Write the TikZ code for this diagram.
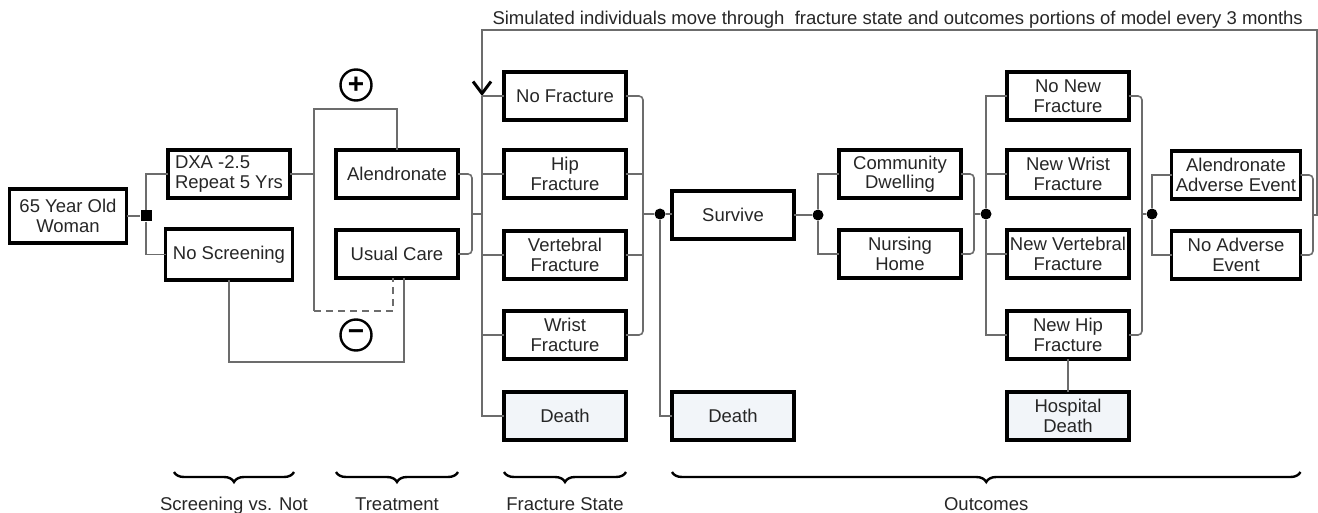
\documentclass[tikz,border=0pt]{standalone}
\usepackage{fontspec}
\setmainfont{Liberation Sans}
\usetikzlibrary{positioning, arrows.meta, decorations.pathreplacing}
\definecolor{linkgray}{HTML}{6C6C6C}
\definecolor{textgray}{HTML}{262626}
\definecolor{deathfill}{HTML}{F2F5F9}

\begin{document}
\begin{tikzpicture}[
    x=1pt, y=-1pt,
    node distance=32pt,
    state/.style={rectangle, draw=black, line width=3.4pt, outer sep=0pt, minimum width=122pt, minimum height=48pt, inner sep=1.5pt, align=center, text=textgray, font=\fontsize{18.5}{19.5}\selectfont},
    absorb/.style={state, fill=deathfill},
    link/.style={draw=linkgray, line width=1.6pt},
    merge/.style={link, rounded corners=4pt},
    chance/.style={circle, fill=black, inner sep=0pt, minimum size=11pt},
    choice/.style={rectangle, fill=black, inner sep=0pt, minimum size=11pt},
    sign/.style={circle, draw=black, line width=2.4pt, minimum size=31pt, inner sep=0pt, font=\fontsize{28}{28}\selectfont\bfseries},
    phase/.style={decorate, decoration={brace, mirror, amplitude=10pt}, line width=2.4pt},
    phaselabel/.style={font=\fontsize{18.5}{19.5}\selectfont, text=textgray},
]
  \useasboundingbox (0,0) rectangle (1318,513);

  % screening and treatment
  \node[state, minimum width=117pt, minimum height=54pt] (woman) at (68,216) {65 Year Old\\Woman};
  \node[choice] (screen) at (146,216) {};
  \node[state, align=left] (dxa) at (229,174) {DXA -2.5\\Repeat 5 Yrs};
  \node[state, minimum width=127pt, minimum height=51pt, below=31pt of dxa] (noscr) {No Screening};
  \node[state] (alen) at (397,174) {Alendronate};
  \node[state, below=32pt of alen] (usual) {Usual Care};
  \node[sign] (plus) at (356,85) {+};
  \node[sign] (minus) at (356,335) {−};

  % fracture state
  \node[state] (nofx) at (565,96) {No Fracture};
  \node[state, below=30pt of nofx] (hipfx) {Hip\\Fracture};
  \node[state, below=33pt of hipfx] (vertfx) {Vertebral\\Fracture};
  \node[state, below=32pt of vertfx] (wristfx) {Wrist\\Fracture};
  \node[absorb, below=33pt of wristfx] (fxdeath) {Death};

  % outcomes
  \node[chance] (fxnode) at (660,214) {};
  \node[state] (survive) at (733,215) {Survive};
  \node[absorb] (death) at (733,416) {Death};
  \node[chance] (survnode) at (818,215) {};
  \node[state] (community) at (900,174) {Community\\Dwelling};
  \node[state, below=32pt of community] (nursing) {Nursing\\Home};
  \node[chance] (resnode) at (986,214) {};
  \node[state] (nonew) at (1068,96) {No New\\Fracture};
  \node[state, below=30pt of nonew] (newwrist) {New Wrist\\Fracture};
  \node[state, below=32pt of newwrist] (newvert) {New Vertebral\\Fracture};
  \node[state, below=33pt of newvert] (newhip) {New Hip\\Fracture};
  \node[absorb, below=33pt of newhip] (hospdeath) {Hospital\\Death};
  \node[chance] (newfxnode) at (1152,214) {};
  \node[state, minimum width=129pt] (adverse) at (1236,175) {Alendronate\\Adverse Event};
  \node[state, minimum width=129pt, below=32pt of adverse] (noadverse) {No Adverse\\Event};

  \coordinate (trtbusT) at (314,109);
  \coordinate (trtbusB) at (314,311);
  \coordinate (trtjoin) at (472,214);
  \coordinate (fxtop) at (482,30);
  \coordinate (fxjoin) at (643,214);
  \coordinate (resjoin) at (974,214);
  \coordinate (newfxjoin) at (1142,214);
  \coordinate (advjoin) at (1313,215);
  \coordinate (loopR) at (1317,215);
  \coordinate (phasey) at (0,472);

  \node[phaselabel, anchor=base west] (loopnote) at (489,25) {Simulated individuals move through\ \ fracture state and outcomes portions of model every 3 months};

  % connectors
  \draw[link] (woman) -- (screen);
  \draw[link] (dxa.west) -| (screen) |- (noscr.west);
  \draw[link] (dxa.east) -- (dxa.east -| trtbusT);
  \draw[link] (alen.north) |- (trtbusT) -- (trtbusB);
  \draw[link, dash pattern=on 7pt off 5pt] (trtbusB) -| ([xshift=-4pt]usual.south);
  \draw[link] (noscr.south) -- ++(0,82) -| ([xshift=7pt]usual.south);
  \draw[merge] (alen.east) -| (trtjoin) |- (usual.east);
  \draw[link] (trtjoin) -- (trtjoin -| fxtop);

  \draw[merge] (adverse.east) -| (advjoin) |- (noadverse.east);
  \draw[link, -{Straight Barb[length=12pt, width=18pt, line width=3pt, color=black]}]
    (advjoin) -- (loopR) |- (fxtop) -- (fxtop |- nofx.west);
  \draw[link] (fxtop |- nofx.west) |- (fxdeath.west);
  \foreach \s in {nofx, hipfx, vertfx, wristfx}
    \draw[link] (fxtop |- \s.west) -- (\s.west);
  \draw[merge] (nofx.east) -| (fxjoin) |- (wristfx.east);
  \foreach \s in {hipfx, vertfx}
    \draw[link] (\s.east) -- (\s.east -| fxjoin);
  \draw[link] (fxjoin) -- (fxnode);

  \draw[link] (fxnode) -- (fxnode -| survive.west);
  \draw[link] (fxnode) |- (death.west);
  \draw[link] (survive) -- (survnode);
  \draw[link] (community.west) -| (survnode) |- (nursing.west);
  \draw[merge] (community.east) -| (resjoin) |- (nursing.east);
  \draw[link] (resjoin) -- (resnode);
  \draw[link] (nonew.west) -| (resnode) |- (newhip.west);
  \foreach \s in {newwrist, newvert}
    \draw[link] (\s.west -| resnode) -- (\s.west);
  \draw[link] (newhip) -- (hospdeath);
  \draw[merge] (nonew.east) -| (newfxjoin) |- (newhip.east);
  \draw[link] (newfxjoin) -- (newfxnode);
  \draw[link] (adverse.west) -| (newfxnode) |- (noadverse.west);

  % model phases
  \draw[phase] ([xshift=6pt]dxa.west |- phasey) -- ([xshift=4pt]dxa.east |- phasey)
    node[phaselabel, midway, below=21pt] (screenlbl) {Screening vs. Not};
  \draw[phase] (alen.west |- phasey) -- (alen.east |- phasey)
    node[phaselabel, midway, below=21pt] (trtlbl) {Treatment};
  \draw[phase] (nofx.west |- phasey) -- (nofx.east |- phasey)
    node[phaselabel, midway, below=21pt] (fxlbl) {Fracture State};
  \draw[phase] (survive.west |- phasey) -- (noadverse.east |- phasey)
    node[phaselabel, midway, below=21pt] (outlbl) {Outcomes};
\end{tikzpicture}
\end{document}
